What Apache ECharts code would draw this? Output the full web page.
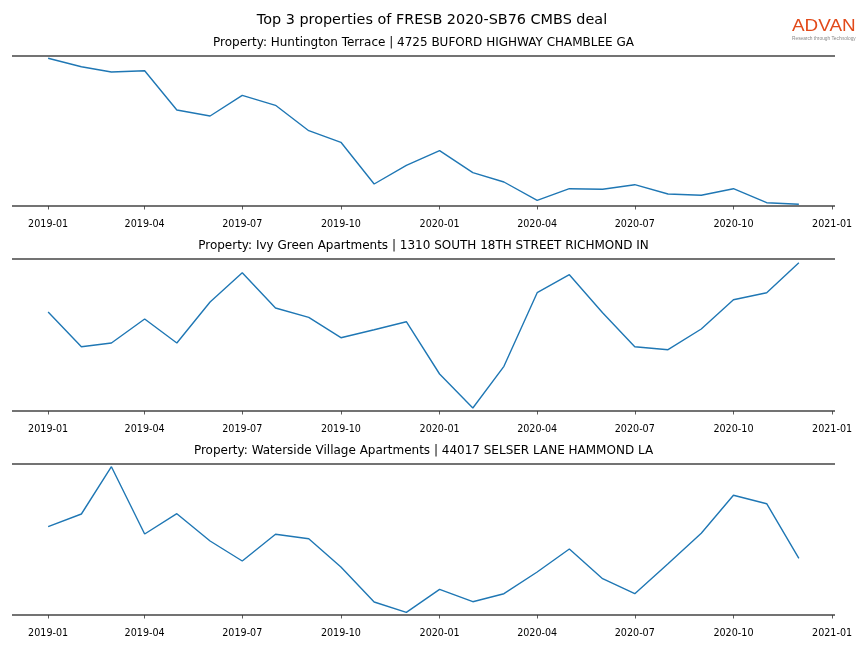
<!DOCTYPE html>
<html>
<head>
<meta charset="utf-8">
<script src="https://cdn.jsdelivr.net/npm/echarts@6/dist/echarts.min.js"></script>
<style>html,body{margin:0;padding:0;background:#fff}#c{width:864px;height:648px}</style>
</head>
<body>
<div id="c"></div>
<script>
const months = ['2019-01','2019-02','2019-03','2019-04','2019-05','2019-06','2019-07','2019-08','2019-09','2019-10','2019-11','2019-12',
  '2020-01','2020-02','2020-03','2020-04','2020-05','2020-06','2020-07','2020-08','2020-09','2020-10','2020-11','2020-12'];
const tickLabels = ['2019-01','2019-04','2019-07','2019-10','2020-01','2020-04','2020-07','2020-10','2021-01'];
const titles = [
  'Property: Huntington Terrace | 4725 BUFORD HIGHWAY CHAMBLEE GA',
  'Property: Ivy Green Apartments | 1310 SOUTH 18TH STREET RICHMOND IN',
  'Property: Waterside Village Apartments | 44017 SELSER LANE HAMMOND LA'
];
const huntington = [147.7,139.3,134,135.3,96,90,110.7,100.7,75.3,63.7,22,40.7,55.3,33.3,24,5.7,17.3,16.7,21.3,12,10.7,17.3,3.3,1.7];
const ivyGreen = [99,64.3,68,92,68,109,138.3,103,93.7,73.3,81.3,89.3,37,3,44.7,118.3,136.3,98.3,64.3,61.3,82,111.3,118.3,148.3];
const waterside = [88.3,101,148.3,81,101.3,74,54,80.7,76.3,48,13,2.7,25.7,13.3,21.3,43,66,36.3,21.3,51.3,81.7,119.7,111.3,56.7];
const yMax = [150,152,151];
const seriesValues = [huntington, ivyGreen, waterside];

function ts(s){ const p = s.split('-'); return Date.UTC(+p[0], +p[1]-1, 1); }
const DAY = 86400000;
const xMin = ts('2019-01') - 33.7*DAY;
const xMax = ts('2020-12') + 33.7*DAY;
const tickVals = tickLabels.map(ts);
function fmt(v){ const d = new Date(v); return d.getUTCFullYear() + '-' + String(d.getUTCMonth()+1).padStart(2,'0'); }

const gridTops = [56, 259, 464];
const FONT = 'DejaVu Sans';
const grids = [], xAxes = [], yAxes = [], series = [], titleList = [];
titleList.push({text:'Top 3 properties of FRESB 2020-SB76 CMBS deal', left:427, top:8, textAlign:'center',
  textStyle:{fontFamily:FONT, fontSize:14.4, fontWeight:'normal', color:'#000'}});
for (let i=0;i<3;i++){
  grids.push({left:12, right:29, top:gridTops[i], height:yMax[i]});
  titleList.push({text:titles[i], left:418.5, top:gridTops[i]-24, textAlign:'center',
    textStyle:{fontFamily:FONT, fontSize:12, fontWeight:'normal', color:'#000'}});
  xAxes.push({type:'value', gridIndex:i, min:xMin, max:xMax, position:'bottom', offset:6,
    axisLine:{show:false},
    axisTick:{show:true, length:3.5, lineStyle:{color:'#333', width:0.8}, customValues:tickVals},
    axisLabel:{show:true, customValues:tickVals, formatter:fmt, fontFamily:FONT, fontSize:9.6, color:'#000', margin:7, hideOverlap:false},
    splitLine:{show:false}});
  yAxes.push({type:'value', gridIndex:i, min:0, max:yMax[i], interval:yMax[i],
    axisLine:{show:false}, axisTick:{show:false}, axisLabel:{show:false},
    splitLine:{show:true, lineStyle:{color:'#444', width:1.5}}});
  series.push({type:'line', xAxisIndex:i, yAxisIndex:i, symbol:'none', animation:false,
    lineStyle:{color:'#1f77b4', width:1.4},
    data: months.map((m,k)=>[ts(m), seriesValues[i][k]])});
}
const chart = echarts.init(document.getElementById('c'));
chart.setOption({
  animation:false,
  title:titleList, grid:grids, xAxis:xAxes, yAxis:yAxes, series:series,
  graphic:[
    {type:'text', x:792, y:18, scaleX:1.11, style:{text:'ADVAN', fill:'#E24A1A', font:'normal 17px "Liberation Sans"'}},
    {type:'text', x:792, y:36, style:{text:'Research through Technology', fill:'#888', font:'4.8px "Liberation Sans"'}}
  ]
});
</script>
</body>
</html>
